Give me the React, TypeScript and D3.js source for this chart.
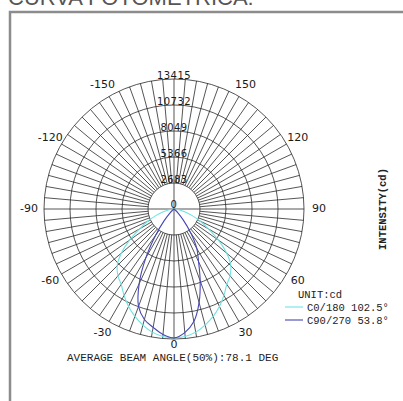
import * as d3 from "d3";

// polar angles, 0 = straight down, positive to the right
const angles = [
  -90, -85, -80, -75, -70, -65, -60, -55, -50, -45, -40, -35, -30, -25, -20, -15, -10, -5,
  0, 5, 10, 15, 20, 25, 30, 35, 40, 45, 50, 55, 60, 65, 70, 75, 80, 85, 90,
];

// C0/180 intensities (cd)
const c0Values = [
  0, 200, 600, 1200, 2000, 3000, 4100, 5600, 7100, 8300, 9000, 9500, 10300, 11100, 11800, 12400, 12900, 13200,
  13300, 13200, 12900, 12400, 11800, 11100, 10300, 9500, 9000, 8300, 7100, 5600, 4100, 3000, 2000, 1200, 600, 200, 0,
];

// C90/270 intensities (cd)
const c90Values = [
  0, 0, 0, 0, 0, 0, 0, 0, 200, 600, 1600, 3300, 5800, 8500, 10700, 11800, 12400, 13000,
  13300, 12800, 11800, 10000, 7900, 6000, 4700, 3000, 1500, 600, 200, 0, 0, 0, 0, 0, 0, 0, 0,
];

const ringValues = [0, 2683, 5366, 8049, 10732, 13415];
const angleLabels = [-150, -120, -90, -60, -30, 0, 30, 60, 90, 120, 150];
const legendItems = [
  { label: "C0/180 102.5°", color: "#6fe3e3" },
  { label: "C90/270 53.8°", color: "#4646b4" },
];

const W = 403;
const H = 401;
const cx = 174;
const cy = 209;
const R = 130;

export default function App() {
  const r = d3.scaleLinear().domain([0, 13415]).range([0, R]);
  const rad = (a: number) => (a * Math.PI) / 180;
  const px = (a: number, rr: number) => cx + rr * Math.sin(rad(a));
  const py = (a: number, rr: number) => cy + rr * Math.cos(rad(a));

  const line = d3
    .lineRadial<number>()
    .angle((_, i) => Math.PI - rad(angles[i]))
    .radius((d) => r(d))
    .curve(d3.curveCatmullRom);

  const spokes = d3.range(0, 360, 5);
  const mono = "'Liberation Mono', 'Courier New', monospace";
  const sans = "'DejaVu Sans', sans-serif";

  return (
    <svg width={W} height={H} style={{ position: "absolute", left: 0, top: 0, background: "#fff" }}>
      <text x={8} y={5} fontFamily="'Liberation Sans', Arial, sans-serif" fontSize={22} fill="#555">
        CURVA FOTOMÉTRICA:
      </text>
      <path d={`M10,${H + 5} V12 H${W + 5}`} fill="none" stroke="#8c8c8c" strokeWidth={2.5} />

      <g stroke="#2a2a2a" strokeWidth={0.8} fill="none">
        {ringValues.slice(1).map((v) => (
          <circle key={v} cx={cx} cy={cy} r={r(v)} />
        ))}
        {spokes.map((a) => {
          const full = a % 90 === 0;
          const r0 = full ? 0 : r(2683);
          return (
            <line key={a} x1={px(a, r0)} y1={py(a, r0)} x2={px(a, R)} y2={py(a, R)} />
          );
        })}
      </g>

      <g fontFamily={sans} fontSize={10} fill="#1a1a1a" textAnchor="middle" letterSpacing={0.4}>
        {ringValues.map((v) => (
          <text key={v} x={cx} y={cy - r(v) + (v === 0 ? -1 : 0)}>
            {v}
          </text>
        ))}
      </g>

      <g fontFamily={sans} fontSize={11} fill="#1a1a1a" textAnchor="middle" dominantBaseline="middle">
        {angleLabels.map((a) => {
          const lr = a === 0 ? 136 : 143;
          return (
            <text key={a} x={px(a, lr) + (Math.abs(a) === 90 ? (a > 0 ? 2 : -2) : 0)} y={py(a, lr)}>
              {a}
            </text>
          );
        })}
      </g>

      <g transform={`translate(${cx},${cy})`} fill="none" strokeWidth={1.1}>
        <path d={line(c0Values) ?? ""} stroke={legendItems[0].color} />
        <path d={line(c90Values) ?? ""} stroke={legendItems[1].color} />
      </g>

      <g fontFamily={mono} fontSize={10.5} fill="#222">
        <text x={298} y={298}>UNIT:cd</text>
        {legendItems.map((d, i) => (
          <g key={d.label} transform={`translate(285,${307 + i * 13})`}>
            <line x1={0} x2={18} y1={0} y2={0} stroke={d.color} strokeWidth={1.1} />
            <text x={22} y={3.5}>
              {d.label}
            </text>
          </g>
        ))}
      </g>

      <text x={67} y={361} fontFamily={mono} fontSize={11} fill="#222">
        AVERAGE BEAM ANGLE(50%):78.1 DEG
      </text>

      <text
        transform="translate(386,209) rotate(-90)"
        textAnchor="middle"
        fontFamily={mono}
        fontWeight="bold"
        fontSize={10.5}
        fill="#222"
      >
        INTENSITY(cd)
      </text>
    </svg>
  );
}
